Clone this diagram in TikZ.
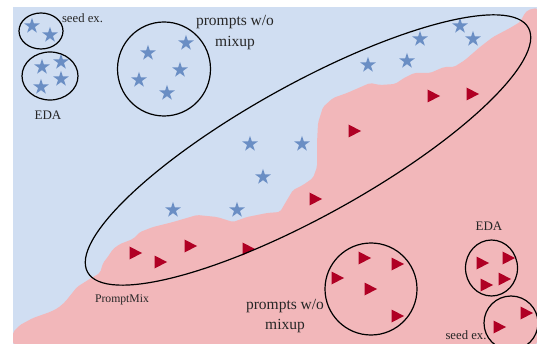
\documentclass[tikz,border=0pt]{standalone}
\usepackage{fontspec}
\setmainfont{Liberation Serif}
\usetikzlibrary{shapes.geometric}
\definecolor{bgblue}{RGB}{208,222,242}
\definecolor{bgpink}{RGB}{242,183,186}
\definecolor{starblue}{RGB}{106,142,196}
\definecolor{trired}{RGB}{176,0,36}
\tikzset{
  bluestar/.style={star, star points=5, star point ratio=2.62, minimum size=16.4pt, inner sep=0pt, fill=starblue, draw=none},
  tri/.pic={\fill[trired] (-5.5,-6.5) -- (7,0) -- (-5.5,6.5) -- cycle;},
  ring/.style={draw=black, line width=1.2pt},
  lab/.style={inner sep=0pt, align=center, text=black!85}
}
\begin{document}
\begin{tikzpicture}[x=1pt,y=-1pt]
\useasboundingbox (0,0) rectangle (537,344);
\fill[white] (0,0) rectangle (537,344);
\begin{scope}
\clip (0,0) rectangle (537,344);
% blue background
\fill[bgblue] (13,7) rectangle (537,344);
% pink region
\fill[bgpink, rounded corners=2pt] (13,344) -- (13,332) -- (20,325) -- (33,318) -- (50,312) -- (58,308) -- (65,302) -- (77,287) -- (88,280) -- (100,273) -- (103,263) -- (107,258) -- (113,249) -- (120,244) -- (133,239) -- (140,232) -- (153,227) -- (173,222) -- (197,215) -- (217,217) -- (233,222) -- (247,217) -- (267,213) -- (280,212) -- (287,200) -- (293,190) -- (303,185) -- (313,178) -- (317,167) -- (317,143) -- (318,123) -- (323,107) -- (333,98) -- (347,93) -- (370,83) -- (380,85) -- (395,84) -- (404,78) -- (414,73) -- (430,73) -- (444,67) -- (454,67) -- (465,60) -- (480,47) -- (493,37) -- (510,28) -- (520,22) -- (525,13) -- (528,10) -- (537,8) -- (537,344) -- cycle;

% blue stars
\foreach \p [count=\i] in {(32,26),(50,35),(42,67),(61,62),(61,79),(41,87),(148,53),(186,43),(180,70),(139,80),(167,93),(250,144),(302,144),(263,177),(173,210),(237,210),(368,65),(407,61),(420,39),(460,26),(473,39)}
  \node[bluestar] (s\i) at \p {};

% red triangles
\foreach \p [count=\i] in {(433,96),(472,94),(354,131),(315,199),(135,253),(160,262),(190,246),(248,249),(364,258),(397,264),(337,278),(370,289),(397,316),(482,263),(508,258),(486,285),(504,279),(526,313),(499,327)}
  \pic (t\i) at \p {tri};

% groups
\draw[ring] (41,31) ellipse [x radius=22, y radius=18];
\draw[ring] (50,76) ellipse [x radius=28, y radius=24];
\draw[ring] (164,69) ellipse [x radius=46.5, y radius=47];
\draw[ring, rotate around={29:(308,150)}] (308,150) ellipse [x radius=252, y radius=66];
\draw[ring] (371,289) circle [radius=46];
\draw[ring] (491.5,268) ellipse [x radius=26, y radius=28];
\draw[ring] (511,323) circle [radius=27];
\end{scope}

% labels
\node[lab, font=\fontsize{12.7}{14}\selectfont] (l1) at (82.5,18) {seed ex.};
\node[lab, font=\fontsize{13}{15}\selectfont] (l2) at (48,115) {EDA};
\node[lab, font=\fontsize{15.5}{21}\selectfont] (l3) at (235,33) {prompts w/o\\mixup};
\node[lab, font=\fontsize{11.7}{13}\selectfont] (l4) at (122,300) {PromptMix};
\node[lab, font=\fontsize{15.5}{20}\selectfont] (l5) at (285,316) {prompts w/o\\mixup};
\node[lab, font=\fontsize{13}{15}\selectfont] (l6) at (489,226) {EDA};
\node[lab, font=\fontsize{12.7}{14}\selectfont] (l7) at (466,335) {seed ex.};
\end{tikzpicture}
\end{document}
